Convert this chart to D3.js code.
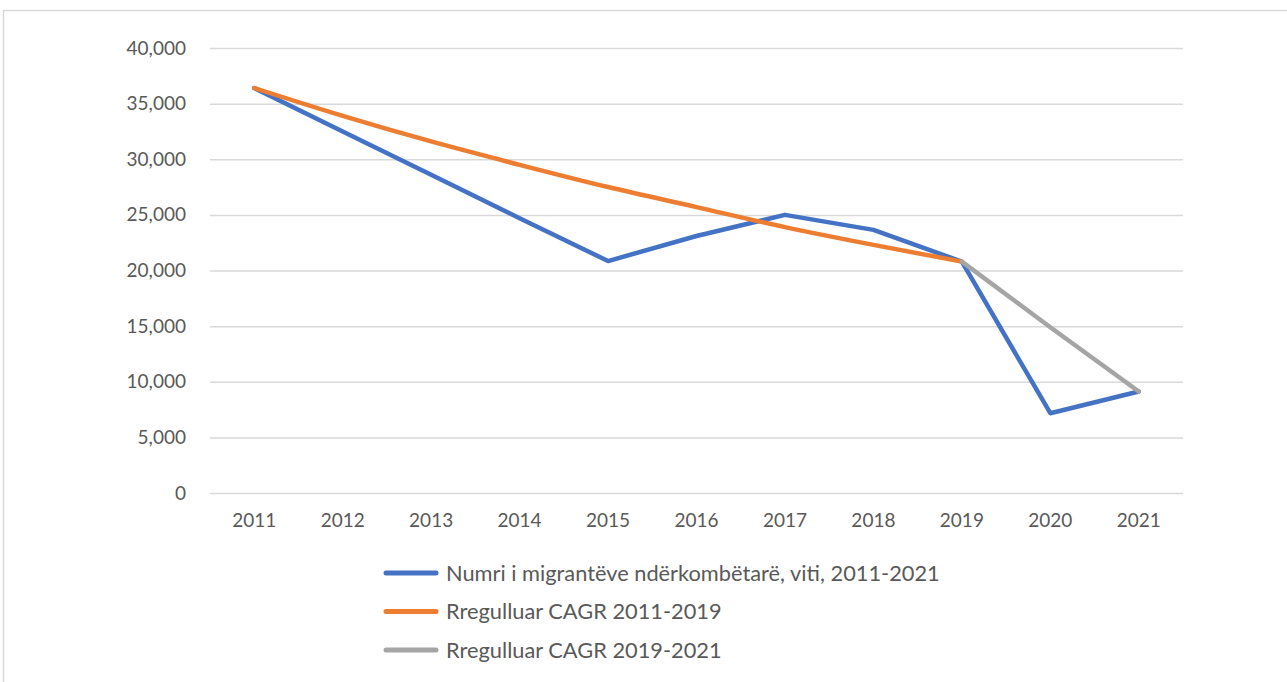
<!DOCTYPE html>
<html>
<head>
<meta charset="utf-8">
<script src="https://cdn.jsdelivr.net/npm/d3@7"></script>
<style>
  body { margin: 0; background: #fff; }
  svg { display: block; }
</style>
</head>
<body>
<div id="chart"></div>
<script>
// values
var years = ['2011', '2012', '2013', '2014', '2015', '2016', '2017', '2018', '2019', '2020', '2021'];
var migrants = [36400, 32500, 28600, 24700, 20850, 23100, 25000, 23650, 20800, 7170, 9120];
var cagr1119 = [36400, 33900, 31600, 29500, 27500, 25700, 23900, 22300, 20800, null, null];
var cagr1921 = [null, null, null, null, null, null, null, null, 20800, 14900, 9120];
var yTicks = [0, 5000, 10000, 15000, 20000, 25000, 30000, 35000, 40000];
var seriesNames = [
  'Numri i migrantëve ndërkombëtarë, viti, 2011-2021',
  'Rregulluar CAGR 2011-2019',
  'Rregulluar CAGR 2019-2021'
];
var colors = ['#4472C4', '#ED7D31', '#A5A5A5'];

var width = 1287, height = 682;
var margin = { top: 48, right: 104, bottom: 189, left: 210 };

var svg = d3.select('#chart').append('svg')
  .attr('width', width)
  .attr('height', height);

// chart frame
svg.append('rect')
  .attr('x', 3.5).attr('y', 10.5)
  .attr('width', width + 10).attr('height', height + 10)
  .attr('fill', 'none')
  .attr('stroke', '#d9d9d9')
  .attr('stroke-width', 1.5);

var x = d3.scaleBand()
  .domain(years)
  .range([margin.left, width - margin.right]);
var y = d3.scaleLinear()
  .domain([0, 40000])
  .range([height - margin.bottom, margin.top]);

var fmt = d3.format(',');

var yAxis = svg.append('g')
  .attr('transform', 'translate(' + margin.left + ',0)')
  .call(d3.axisLeft(y).tickValues(yTicks).tickFormat(fmt)
    .tickSize(-(width - margin.left - margin.right)).tickPadding(24));
yAxis.select('.domain').remove();
yAxis.selectAll('line').attr('stroke', '#d9d9d9').attr('stroke-width', 1.5);
yAxis.selectAll('text')
  .attr('fill', '#595959')
  .attr('font-family', 'Lato, sans-serif')
  .attr('font-size', '19px');

var xAxis = svg.append('g')
  .attr('transform', 'translate(0,' + (height - margin.bottom) + ')')
  .call(d3.axisBottom(x).tickSize(0).tickPadding(21));
xAxis.select('.domain').remove();
xAxis.selectAll('text')
  .attr('fill', '#595959')
  .attr('font-family', 'Lato, sans-serif')
  .attr('font-size', '19px');

var series = [migrants, cagr1119, cagr1921];
var curves = [d3.curveLinear, d3.curveMonotoneX, d3.curveLinear];

series.forEach(function(vals, i) {
  var line = d3.line()
    .defined(function(d) { return d != null; })
    .x(function(d, j) { return x(years[j]) + x.bandwidth() / 2; })
    .y(function(d) { return y(d); })
    .curve(curves[i]);
  svg.append('path')
    .datum(vals)
    .attr('fill', 'none')
    .attr('stroke', colors[i])
    .attr('stroke-width', 4.5)
    .attr('stroke-linejoin', 'round')
    .attr('stroke-linecap', 'round')
    .attr('d', line);
});

// legend
var legend = svg.append('g').attr('transform', 'translate(384,573)');
seriesNames.forEach(function(name, i) {
  var g = legend.append('g').attr('transform', 'translate(0,' + (i * 38.5) + ')');
  g.append('line')
    .attr('x1', 2).attr('x2', 52)
    .attr('stroke', colors[i])
    .attr('stroke-width', 5)
    .attr('stroke-linecap', 'round');
  g.append('text')
    .attr('x', 62)
    .attr('dy', '0.35em')
    .attr('fill', '#595959')
    .attr('font-family', 'Lato, sans-serif')
    .attr('font-size', '21.8px')
    .text(name);
});
</script>
</body>
</html>
